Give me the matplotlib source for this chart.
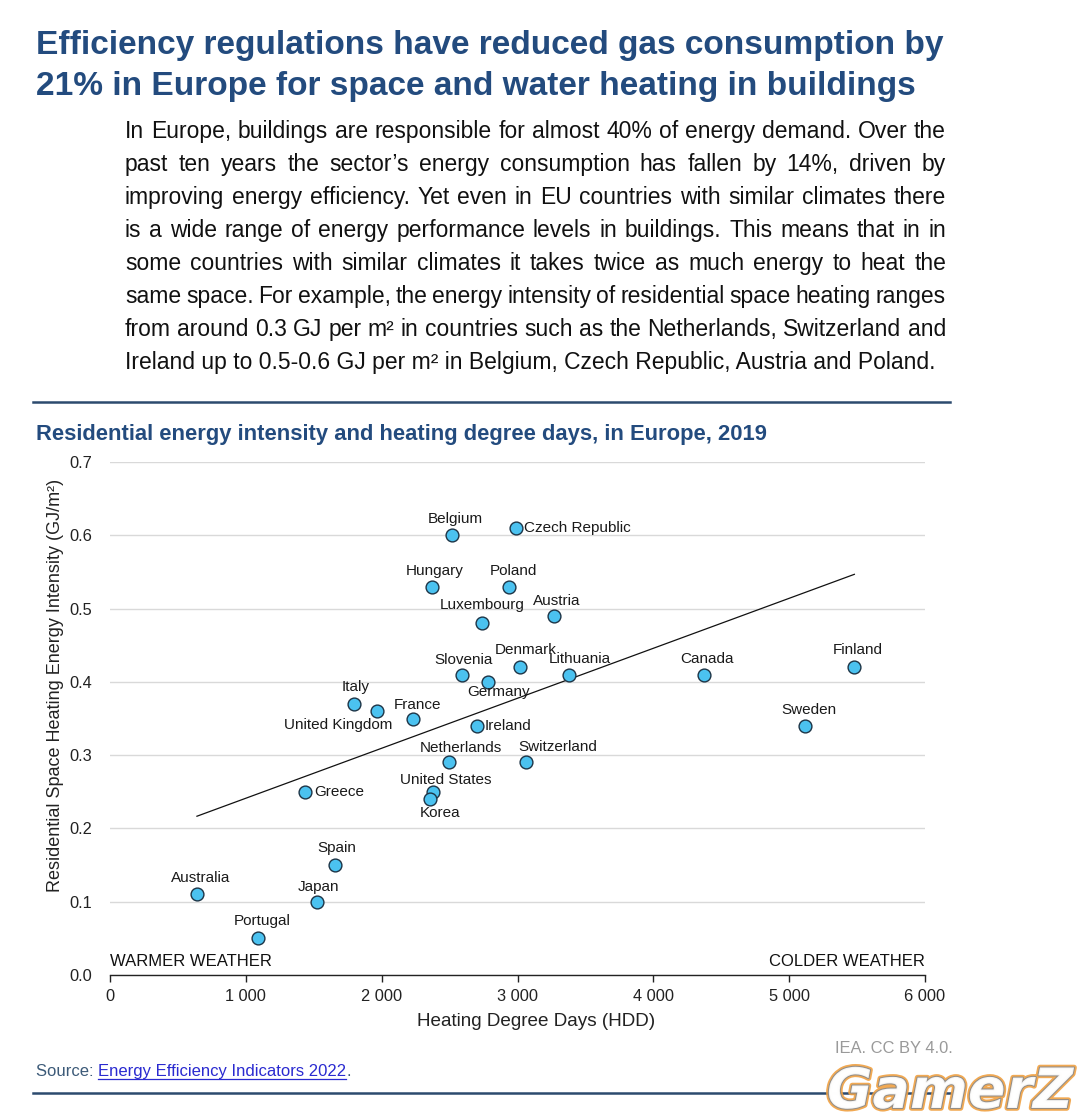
import matplotlib
matplotlib.use("Agg")
import matplotlib.pyplot as plt
import matplotlib.patheffects as pe
import numpy as np

plt.rcParams['font.family'] = ['Liberation Sans', 'DejaVu Sans']

# ---------------- data ----------------
countries = ["Belgium", "Czech Republic", "Hungary", "Poland", "Luxembourg", "Austria",
             "Denmark", "Slovenia", "Germany", "Lithuania", "Canada", "Finland", "Sweden",
             "Italy", "United Kingdom", "France", "Ireland", "Netherlands", "Switzerland",
             "United States", "Korea", "Greece", "Spain", "Japan", "Australia", "Portugal"]
hdd = [2520, 2990, 2370, 2940, 2740, 3270, 3020, 2590, 2785, 3380, 4375, 5480, 5120,
       1795, 1965, 2230, 2700, 2495, 3065, 2380, 2355, 1435, 1655, 1525, 640, 1090]
intensity = [0.60, 0.61, 0.53, 0.53, 0.48, 0.49, 0.42, 0.41, 0.40, 0.41, 0.41, 0.42, 0.34,
             0.37, 0.36, 0.35, 0.34, 0.29, 0.29, 0.25, 0.24, 0.25, 0.15, 0.10, 0.11, 0.05]
trend_slope = 6.82e-5
trend_intercept = 0.173
x_ticks = [0, 1000, 2000, 3000, 4000, 5000, 6000]
x_tick_labels = ["0", "1 000", "2 000", "3 000", "4 000", "5 000", "6 000"]
y_ticks = [0.0, 0.1, 0.2, 0.3, 0.4, 0.5, 0.6, 0.7]
y_tick_labels = ["0.0", "0.1", "0.2", "0.3", "0.4", "0.5", "0.6", "0.7"]

title_lines = ["Efficiency regulations have reduced gas consumption by",
               "21% in Europe for space and water heating in buildings"]
body_lines = [
    "In Europe, buildings are responsible for almost 40% of energy demand. Over the",
    "past ten years the sector\u2019s energy consumption has fallen by 14%, driven by",
    "improving energy efficiency. Yet even in EU countries with similar climates there",
    "is a wide range of energy performance levels in buildings. This means that in in",
    "some countries with similar climates it takes twice as much energy to heat the",
    "same space. For example, the energy intensity of residential space heating ranges",
    "from around 0.3 GJ per m\u00b2 in countries such as the Netherlands, Switzerland and",
    "Ireland up to 0.5-0.6 GJ per m\u00b2 in Belgium, Czech Republic, Austria and Poland.",
]
chart_title = "Residential energy intensity and heating degree days, in Europe, 2019"

# label placement (pixel offsets from marker, horizontal alignment)
label_offsets = {
    "Belgium": (3, 16, "center"), "Czech Republic": (8, 0, "left"),
    "Hungary": (3, 16, "center"), "Poland": (4, 16, "center"),
    "Luxembourg": (0, 18, "center"), "Austria": (3, 15, "center"),
    "Denmark": (5, 17, "center"), "Slovenia": (2, 15, "center"),
    "Germany": (10, -10, "center"), "Lithuania": (11, 16, "center"),
    "Canada": (3, 16, "center"), "Finland": (3, 17, "center"),
    "Sweden": (3, 16, "center"), "Italy": (2, 17, "center"),
    "United Kingdom": (-39, -14, "center"), "France": (5, 14, "center"),
    "Ireland": (8, 0, "left"), "Netherlands": (12, 14, "center"),
    "Switzerland": (31, 15, "center"), "United States": (12, 12, "center"),
    "Korea": (10, -14, "center"), "Greece": (9, 0, "left"),
    "Spain": (2, 17, "center"), "Japan": (1, 15, "center"),
    "Australia": (4, 16, "center"), "Portugal": (4, 17, "center"),
}

W, H = 1079, 1119
BLUE = "#234b7e"
fig = plt.figure(figsize=(W / 100, H / 100), dpi=100)


def fx(x):
    return x / W


def fy(y):
    return 1 - y / H


# ---------------- header ----------------
for i, line in enumerate(title_lines):
    fig.text(fx(36), fy(54 + 41 * i), line, fontsize=24.1, fontweight="bold",
             color=BLUE, va="baseline", ha="left")

renderer = fig.canvas.get_renderer()
body_size = 16.45
left_px, right_px = 125, 946
for i, line in enumerate(body_lines):
    ybase = fy(138 + 33 * i)
    words = line.split(" ")
    if i == len(body_lines) - 1:
        fig.text(fx(left_px), ybase, line, fontsize=body_size, va="baseline",
                 ha="left", color="#111111")
        continue
    widths = []
    for w in words:
        t = fig.text(0, 0, w, fontsize=body_size)
        widths.append(t.get_window_extent(renderer).width)
        t.remove()
    gap = (right_px - left_px - sum(widths)) / (len(words) - 1)
    x = left_px
    for w, wd in zip(words, widths):
        fig.text(fx(x), ybase, w, fontsize=body_size, va="baseline", ha="left",
                 color="#111111")
        x += wd + gap

# separators
fig.add_artist(plt.Line2D([fx(33), fx(950)], [fy(402), fy(402)], color="#2c4a6e", lw=1.8))
fig.add_artist(plt.Line2D([fx(33), fx(950)], [fy(1093), fy(1093)], color="#2c4a6e", lw=1.8))

fig.text(fx(36), fy(440), chart_title, fontsize=15.8, fontweight="bold", color=BLUE,
         va="baseline", ha="left")

# ---------------- chart ----------------
ax = fig.add_axes([fx(110), fy(975), (925 - 110) / W, (975 - 462) / H])
ax.set_xlim(0, 6000)
ax.set_ylim(0, 0.7)
for s in ["top", "right", "left"]:
    ax.spines[s].set_visible(False)
ax.spines["bottom"].set_color("#222222")
ax.spines["bottom"].set_linewidth(1.0)
ax.set_yticks(y_ticks)
ax.set_yticklabels(y_tick_labels)
ax.set_xticks(x_ticks)
ax.set_xticklabels(x_tick_labels)
ax.tick_params(axis="y", length=0, pad=13, labelsize=11.8, labelcolor="#222222")
ax.tick_params(axis="x", length=5, width=1, pad=5, labelsize=11.8, labelcolor="#222222",
               color="#222222")
ax.yaxis.grid(True, color="#d9d9d9", lw=1)
ax.set_axisbelow(True)

xs = np.array([min(hdd), max(hdd)])
ax.plot(xs, trend_intercept + trend_slope * xs, color="#111111", lw=0.9, zorder=2)

ax.scatter(hdd, intensity, s=85, facecolor="#4bc2f0", edgecolor="#1d3446", lw=1.0, zorder=3)

for name, x, y in zip(countries, hdd, intensity):
    dx, dy, ha = label_offsets[name]
    ax.annotate(name, (x, y), xytext=(dx, dy), textcoords="offset pixels",
                ha=ha, va="center", fontsize=11, color="#1a1a1a", zorder=4)

ax.text(0.0, 0.012, "WARMER WEATHER", transform=ax.transAxes, fontsize=12,
        ha="left", va="bottom", color="#111111")
ax.text(1.0, 0.012, "COLDER WEATHER", transform=ax.transAxes, fontsize=12,
        ha="right", va="bottom", color="#111111")

ax.set_xlabel("Heating Degree Days (HDD)", fontsize=13.6, color="#222222")
ax.xaxis.set_label_coords(0.523, -0.075)
ax.set_ylabel("Residential Space Heating Energy Intensity (GJ/m\u00b2)", fontsize=13,
              color="#222222")
ax.yaxis.set_label_coords(-0.056, 0.565)

# ---------------- footer ----------------
fig.text(fx(953), fy(1053), "IEA. CC BY 4.0.", fontsize=11.9, color="#9a9a9a",
         ha="right", va="baseline")
t1 = fig.text(fx(36), fy(1076), "Source: ", fontsize=12, color="#3c5a78",
              va="baseline", ha="left")
w1 = t1.get_window_extent(renderer).width
link = "Energy Efficiency Indicators 2022"
t2 = fig.text(fx(36 + w1), fy(1076), link, fontsize=12, color="#2a2ad0",
              va="baseline", ha="left")
w2 = t2.get_window_extent(renderer).width
fig.add_artist(plt.Line2D([fx(36 + w1), fx(36 + w1 + w2)], [fy(1079), fy(1079)],
                          color="#2a2ad0", lw=0.9))
fig.text(fx(36 + w1 + w2), fy(1076), ".", fontsize=12, color="#3c5a78",
         va="baseline", ha="left")

# watermark
fig.text(fx(1073), fy(1108), "GamerZ", fontsize=40, fontweight="bold", style="italic",
         family="DejaVu Sans", color="white", ha="right", va="baseline", alpha=0.9,
         path_effects=[pe.Stroke(linewidth=4, foreground="#f0a040"),
                       pe.Stroke(linewidth=1.5, foreground="#8a8a8a"), pe.Normal()])

fig.savefig("out.png", dpi=100)
